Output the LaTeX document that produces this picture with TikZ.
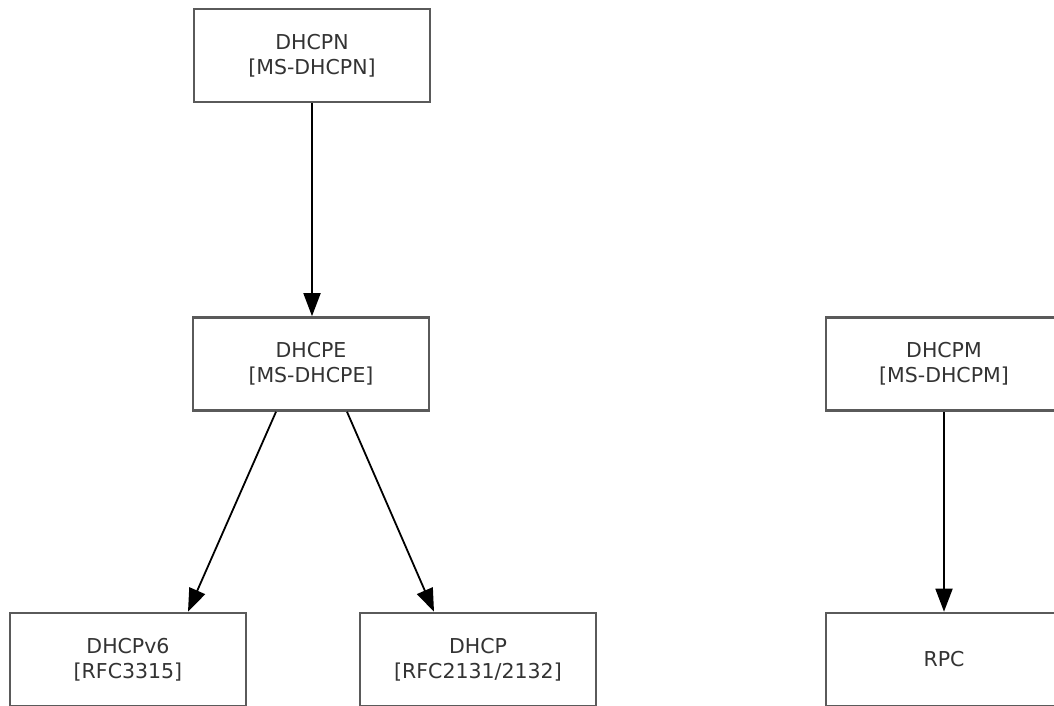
\documentclass[tikz,border=0pt]{standalone}
\usepackage{fontspec}
\setmainfont{DejaVu Sans}
\usetikzlibrary{arrows.meta}
\definecolor{boxline}{HTML}{5A5A5A}
\definecolor{txt}{HTML}{333333}
\begin{document}
\begin{tikzpicture}[x=1pt,y=-1pt,
  proto/.style={draw=boxline, line width=2.6pt, fill=white, minimum width=236pt, minimum height=93pt,
    align=center, inner sep=0pt, text=txt, font=\fontsize{20.5}{25}\selectfont},
  link/.style={draw=black, line width=1.8pt, -{Triangle[length=23pt,width=17pt]}}]
\useasboundingbox (0,0) rectangle (1054,706);
\clip (0,0) rectangle (1054,706);
\node[proto] (n) at (312,55.5) {DHCPN\\{}[MS-DHCPN]};
\node[proto] (e) at (311,364) {DHCPE\\{}[MS-DHCPE]};
\node[proto] (m) at (944,364) {DHCPM\\{}[MS-DHCPM]};
\node[proto] (v6) at (128,659.5) {DHCPv6\\{}[RFC3315]};
\node[proto] (d) at (478,659.5) {DHCP\\{}[RFC2131/2132]};
\node[proto] (r) at (944,659.5) {RPC};
\draw[link] (n.south) -- (n.south |- e.north);
\draw[link] ([xshift=-35pt]e.south) -- ([xshift=60pt]v6.north);
\draw[link] ([xshift=36pt]e.south) -- ([xshift=-44pt]d.north);
\draw[link] (m.south) -- (r.north);
\end{tikzpicture}
\end{document}
